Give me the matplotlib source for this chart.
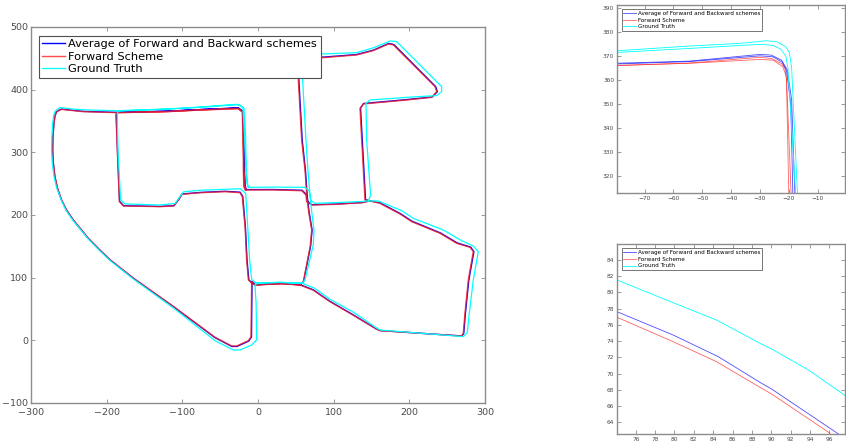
import matplotlib
matplotlib.use("Agg")
import matplotlib.pyplot as plt

# --- trajectory data (x, y) ---
fwd_x = [148, 137, 101.8, 70.9, 64.3, 63.4, 57.7, 20, -17.2,
         -18.8, -19.4, -19.5, -20.3, -26,
         -76.7, -120.7, -186.8, -187.7, -185.9, -183.2, -178, -129.5, -111.6, -105, -100.6, -76.4, -43.6, -23.8, -20.7, -17, -15, -12.7, -8.3,
         -4, 31.3, 55.5,
         59.9, 69, 71, 67, 64.5, 62.1, 57.7, 53.3, 52.5, 58, 86.4, 130.4, 152.4, 172.3, 178.9, 205.3, 233.9, 236.1, 229.5, 196.5, 139.2, 134.8, 137, 141.4, 148,
         161.2, 187.6, 203, 240.5, 262.5, 280.1, 284.5, 277.9, 273.5, 271.3, 269.1, 161.2, 156.8, 126, 95.1, 73, 55.5,
         31.3, -4, -8.3, -8.5, -9.2, -12.7, -28.2, -34.8, -56.8,
         -111.6, -164.4, -195.2, -208.8, -224.2, -244, -253, -259.5, -265, -268.3, -270.3, -271.3, -270.9, -269.6, -268.2, -266, -259.5,
         -244, -230.8, -186.8, -120.7, -76.7, -26, -20.8, -18.5, -17.2, -16]
fwd_y = [222.4, 219.5, 217, 216, 221.3, 231.9, 238.8, 240, 239.9,
         246, 271.8, 330, 364.9, 370.2,
         367.5, 364.9, 363.3, 359.6, 303.7, 221.3, 214.4, 213.3, 214.3, 224, 232.9, 235.5, 237.2, 235.6, 229.2, 180, 128.2, 96.3, 91,
         88.3, 90.5, 88.3,
         93.7, 150, 176, 205, 230, 271.8, 319.7, 415.5, 445, 451, 451.1, 455.4, 462.3, 472.9, 471.3, 439.4, 404.8, 396.8, 387.8, 383.5, 377.2, 370.2, 319.7, 224, 222.4,
         218.6, 201.6, 189.4, 170.8, 154.8, 148.4, 141.5, 96.3, 43.1, 11.2, 7, 15.4, 17.6, 40, 61.7, 80, 88.3,
         90.5, 88.3, 94, 80, 5.9, -0.5, -9, -9, 4.8,
         53.9, 99, 128.3, 144, 162.8, 192, 208, 223.9, 243, 261.2, 282, 303.7, 325, 346.3, 358, 364.9, 368.6,
         366.5, 364.9, 363.3, 364.9, 367.5, 369.5, 364, 271.8, 245.2, 240]

avg_x = [147.5, 137, 101.8, 71.5, 65, 64, 58.3, 20, -16.5,
         -18.2, -18.8, -19, -20, -26,
         -76.7, -120.7, -186.4, -187.3, -185.7, -182.9, -177.6, -129.5, -111.2, -104.8, -100.3, -76.3, -43.6, -23.7, -20.2, -16.6, -14.5, -12.1, -7.6,
         -3.5, 31.2, 55.9,
         60.3, 69.5, 71.5, 67.5, 65, 62.7, 58.4, 54, 53.3, 58.8, 86.4, 130.4, 152.5, 172.6, 179.5, 206, 234.8, 237, 230.2, 196.5, 139.5, 135.5, 137.8, 142.1, 147.8,
         161.5, 188, 203.4, 241, 263.2, 281, 285.3, 278.6, 274.1, 271.9, 269.5, 161.2, 156.8, 126, 95.1, 73.2, 55.9,
         31.2, -3.5, -7.8, -8, -8.6, -12.2, -28, -34.5, -56.8,
         -111.6, -164.4, -195.2, -208.8, -224.2, -244, -253.1, -259.6, -265.1, -268.4, -270.4, -271.4, -271, -269.7, -268.3, -266.1, -259.7,
         -244, -230.8, -186.8, -120.7, -76.7, -26, -20.2, -18, -16.7, -15.5]
avg_y = [222.5, 219.8, 217.4, 216.4, 221.6, 232.5, 239.4, 240.6, 240.5,
         246.5, 271.8, 330, 365.6, 370.9,
         368.1, 365.5, 363.8, 360, 303.7, 221.8, 214.8, 213.7, 214.8, 224.6, 233.5, 236, 237.8, 236.4, 229.9, 180, 128.2, 96.5, 91.3,
         88.8, 90.8, 88.7,
         94, 150.2, 176, 205, 230.5, 271.8, 319.7, 415.5, 445.5, 451.8, 451.9, 456, 463, 473.6, 472, 439.8, 404.8, 396.8, 388.3, 384.1, 377.9, 370.5, 319.7, 224.3, 222.7,
         219.2, 202.3, 190.1, 171.4, 155.4, 148.8, 141.5, 96.3, 43.1, 11.2, 6.9, 15.6, 17.9, 40.6, 62.2, 80.5, 88.7,
         90.8, 88.8, 94.2, 80, 5.5, -1.2, -9.8, -9.8, 4.3,
         53.6, 98.8, 128.1, 143.8, 162.6, 191.8, 208, 223.9, 243, 261.2, 282, 303.7, 325, 346.3, 358.2, 365, 369,
         367, 365.3, 363.8, 365.5, 368.2, 370.6, 364.8, 271.8, 245.5, 240.4]

gt_x = [146, 137, 101.8, 75.3, 70, 67.4, 62.1, 20, -12.8,
        -14.5, -15.5, -16.5, -18.5, -25,
        -76.7, -120.7, -184.5, -185.9, -185, -181.5, -175.8, -129.5, -109.4, -104, -98.4, -76, -43.6, -23.6, -16.3, -13.5, -11, -8.5, -4,
        0, 30, 58.6,
        62, 73, 74, 71, 68.5, 66, 63.4, 59, 58.5, 64, 86.4, 130.4, 153, 174.5, 183.3, 211.9, 242.7, 242.7, 236.1, 200, 148, 142.7, 143.6, 148.8, 146,
        159, 189.8, 205.2, 244.9, 269.1, 284.5, 291.1, 284.5, 279.2, 276.6, 271.3, 161.2, 157, 126, 95.1, 75, 58.6,
        30, 0, -4, -2.5, -1.7, -8.3, -23.8, -32.6, -56.8,
        -111.6, -164.4, -195.2, -208.8, -224.2, -244, -253.5, -260, -266, -269.5, -271.8, -272.8, -272.4, -271.3, -270, -268.3, -261.7,
        -244, -230.8, -186.8, -120.7, -76.7, -27.5, -20, -17.8, -16, -13.5, -12.8]
gt_y = [222.5, 221.5, 219.7, 218.6, 222.9, 238.8, 244.1, 244.5, 244.1,
        250, 271.8, 330, 370.2, 376.2,
        371.8, 369, 366, 362, 303.7, 224, 217.6, 216, 218.5, 228, 237, 239.5, 241, 241.9, 234.6, 180, 128.2, 98, 92.5,
        91.5, 92.5, 91,
        96, 152, 176, 205, 235, 271.8, 319.7, 415.5, 450, 457, 457, 459, 467, 477.7, 476.6, 442, 404.8, 396.8, 390.5, 388, 383.5, 378.2, 319.7, 232, 222.5,
        222.4, 207, 194.7, 176.1, 159, 150.6, 141.5, 96.3, 43.1, 12.3, 5.9, 16.5, 19.5, 45, 65.5, 83, 91,
        92.5, 91.5, 88.3, 60, 0.6, -7.4, -15.4, -15.4, -0.5,
        51.5, 97.5, 127, 142.5, 161.5, 190.5, 207, 223.9, 243, 261.2, 282, 303.7, 325, 346.3, 359, 365.5, 371.5,
        369, 367.8, 366.3, 369, 372.3, 376.6, 372, 330, 271.8, 248, 244.1]

# --- zoom detail: corner near (-20, 370), two passes per series ---
c_gt1_x = [-80, -54.4, -37, -27.7, -24.2, -21.0, -19.8, -19.0, -17.0]
c_gt1_y = [372.3, 374.3, 375.4, 376.5, 376.1, 374, 371.5, 365, 313]
c_gt2_x = [-80, -54.4, -30, -25.5, -22.8, -21.0, -20.3, -17.6]
c_gt2_y = [371.6, 373.3, 375, 374.6, 373, 370, 365, 313]
c_avg1_x = [-80, -54.4, -30, -26, -22.5, -20.5, -19.0, -17.9]
c_avg1_y = [367.1, 368, 370.8, 370.5, 368.4, 364.3, 351.8, 313]
c_avg2_x = [-80, -54.4, -30, -25.5, -22.3, -20.8, -19.3, -18.6]
c_avg2_y = [366.8, 367.8, 370.2, 369.8, 367.6, 364, 350, 313]
c_fwd1_x = [-80, -54.4, -30, -26, -22.5, -21.3, -20.8, -20.0]
c_fwd1_y = [366.1, 367.2, 369.6, 369.1, 367, 365, 360.1, 313]
c_fwd2_x = [-80, -54.4, -30, -25.4, -22.1, -20.8, -19.2]
c_fwd2_y = [366.2, 367.1, 368.7, 368.4, 365.7, 361.5, 313]

# --- zoom detail: diagonal segment near (85, 70) ---
d_gt_x = [74.07, 79.86, 84.34, 88.83, 90.03, 93.83, 97.62]
d_gt_y = [81.54, 78.74, 76.6, 73.73, 73.03, 70.45, 67.29]
d_avg_x = [74.07, 79.86, 84.52, 89.0, 90.03, 96.93]
d_avg_y = [77.63, 74.76, 72.09, 68.8, 68.1, 62.56]
d_fwd_x = [74.07, 79.86, 84.34, 89.0, 90.03, 96.07]
d_fwd_y = [76.94, 73.94, 71.47, 68.19, 67.49, 62.64]

labels = ["Average of Forward and Backward schemes", "Forward Scheme", "Ground Truth"]
c_avg, c_fwd, c_gt = "#0000ff", "#ff2020", "#00ffff"
spine_col = "#8c8c8c"
text_col = "#4a4a4a"


def style_axes(ax, fs):
    for s in ax.spines.values():
        s.set_color(spine_col)
        s.set_linewidth(1.0)
    ax.tick_params(direction="in", top=True, right=True, length=3, width=0.6,
                   color=spine_col, labelcolor=text_col, labelsize=fs, pad=2)


fig = plt.figure(figsize=(8.46, 4.43), dpi=100)

# hlavni graf
ax = fig.add_axes([0.0366, 0.0903, 0.5367, 0.8488])
ax.plot(avg_x, avg_y, color=c_avg, lw=1.0, label=labels[0])
ax.plot(fwd_x, fwd_y, color=c_fwd, lw=1.0, alpha=0.8, label=labels[1])
ax.plot(gt_x, gt_y, color=c_gt, lw=0.9, label=labels[2])
ax.set_xlim(-300, 300)
ax.set_ylim(-100, 500)
ax.set_xticks(range(-300, 301, 100))
ax.set_yticks(range(-100, 501, 100))
style_axes(ax, 6.8)
ax.tick_params(axis="x", pad=3.5)
leg = ax.legend(loc="upper left", bbox_to_anchor=(0.017, 0.977), borderaxespad=0,
                fontsize=8.2, handlelength=2.0, handletextpad=0.25, borderpad=0.33,
                labelspacing=0.22, fancybox=False, framealpha=1)
leg.get_frame().set_edgecolor("#505050")
leg.get_frame().set_linewidth(0.8)

# zoom na roh
ax1 = fig.add_axes([0.7293, 0.5643, 0.2695, 0.4244])
ax1.plot(c_avg1_x, c_avg1_y, color=c_avg, lw=0.6, alpha=0.7, label=labels[0])
ax1.plot(c_fwd1_x, c_fwd1_y, color=c_fwd, lw=0.6, alpha=0.7, label=labels[1])
ax1.plot(c_gt1_x, c_gt1_y, color=c_gt, lw=0.6, label=labels[2])
ax1.plot(c_avg2_x, c_avg2_y, color=c_avg, lw=0.6, alpha=0.7)
ax1.plot(c_fwd2_x, c_fwd2_y, color=c_fwd, lw=0.6, alpha=0.7)
ax1.plot(c_gt2_x, c_gt2_y, color=c_gt, lw=0.6)
ax1.set_xlim(-79.6, -0.5)
ax1.set_ylim(313, 391.4)
ax1.set_xticks(range(-70, -9, 10))
ax1.set_yticks(range(320, 391, 10))
style_axes(ax1, 4.2)

# zoom na diagonalu
ax2 = fig.add_axes([0.7293, 0.0203, 0.2695, 0.4289])
ax2.plot(d_avg_x, d_avg_y, color=c_avg, lw=0.6, alpha=0.7, label=labels[0])
ax2.plot(d_fwd_x, d_fwd_y, color=c_fwd, lw=0.6, alpha=0.7, label=labels[1])
ax2.plot(d_gt_x, d_gt_y, color=c_gt, lw=0.6, label=labels[2])
ax2.set_xlim(74.07, 97.6)
ax2.set_ylim(62.56, 85.97)
ax2.set_xticks(range(76, 97, 2))
ax2.set_yticks(range(64, 85, 2))
style_axes(ax2, 4.2)

for a in (ax1, ax2):
    lg = a.legend(loc="upper left", bbox_to_anchor=(0.0206, 0.977), borderaxespad=0,
                  fontsize=4.1, handlelength=2.3, handletextpad=0.3, borderpad=0.3,
                  labelspacing=0.3, fancybox=False, framealpha=1)
    lg.get_frame().set_edgecolor("#606060")
    lg.get_frame().set_linewidth(0.6)

fig.savefig("out.png", dpi=100)
